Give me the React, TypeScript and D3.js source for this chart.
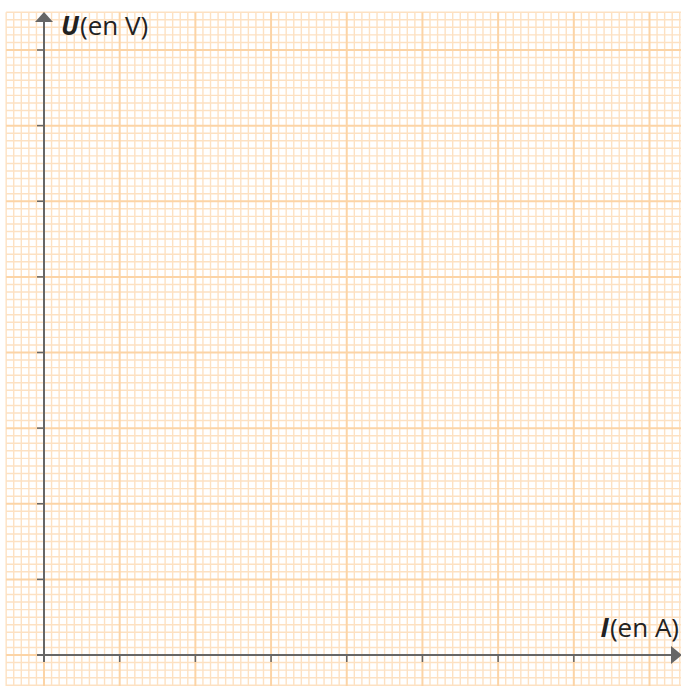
import React from "react";
import * as d3 from "d3";

const xTicks = [1, 2, 3, 4, 5, 6, 7];
const yTicks = [1, 2, 3, 4, 5, 6, 7, 8];
const xLabel = { bold: "I", rest: "(en A)" };
const yLabel = { bold: "U", rest: "(en V)" };

const W = 681;
const H = 686;

export default function App() {
  const x = d3.scaleLinear().domain([0, 8]).range([44, 649.5]);
  const y = d3.scaleLinear().domain([0, 8]).range([655, 50]);
  const step = 0.1;
  const xs = d3.range(-50, 86).map((i) => i * step);
  const ys = d3.range(-41, 86).map((i) => i * step);
  const gx0 = x(-0.5), gx1 = W;
  const gy0 = y(8.5), gy1 = H;
  const minorC = "#fde1c2";
  const majorC = "#fcd4a6";
  const axisC = "#666666";
  const font = "'Open Sans', sans-serif";
  const isMajor = (i: number) => Math.abs(i % 10) === 0;
  return (
    <svg width={W} height={H} style={{ position: "absolute", left: 0, top: 0, background: "#fff" }}>
      <g>
        {[false, true].map((maj) => (
          <g key={String(maj)}>
            {xs.map((v, idx) => {
              const i = idx - 50;
              if (isMajor(i) !== maj) return null;
              const px = x(v);
              if (px > W) return null;
              return (
                <line key={"v" + i} x1={px} x2={px} y1={gy0} y2={gy1}
                  stroke={maj ? majorC : minorC} strokeWidth={maj ? 2 : 1.4} />
              );
            })}
            {ys.map((v, idx) => {
              const i = idx - 41;
              if (isMajor(i) !== maj) return null;
              const py = y(v);
              if (py < gy0 - 0.5) return null;
              return (
                <line key={"h" + i} x1={gx0} x2={gx1} y1={py} y2={py}
                  stroke={maj ? majorC : minorC} strokeWidth={maj ? 2 : 1.4} />
              );
            })}
          </g>
        ))}
      </g>
      <g stroke={axisC} strokeWidth={2}>
        <line x1={x(0)} x2={x(0)} y1={22} y2={y(0) + 7} />
        <line x1={x(0) - 7} x2={672} y1={y(0)} y2={y(0)} />
        {xTicks.map((t) => (
          <line key={"xt" + t} x1={x(t)} x2={x(t)} y1={y(0)} y2={y(0) + 7} strokeWidth={1.5} />
        ))}
        {yTicks.map((t) => (
          <line key={"yt" + t} x1={x(0) - 7} x2={x(0)} y1={y(t)} y2={y(t)} strokeWidth={1.5} />
        ))}
      </g>
      <path d={`M${x(0)},12 L${x(0) - 9},22 L${x(0) + 9},22 Z`} fill={axisC} />
      <path d={`M${W + 1},${y(0)} L${671},${y(0) - 9} L${671},${y(0) + 9} Z`} fill={axisC} />
      <text x={61} y={35} fontFamily={font} fontSize={26} fill="#222">
        <tspan fontWeight="bold" fontStyle="italic">{yLabel.bold}</tspan>
        <tspan dx={1}>{yLabel.rest}</tspan>
      </text>
      <text x={679} y={637} textAnchor="end" fontFamily={font} fontSize={26} fill="#222">
        <tspan fontWeight="bold" fontStyle="italic">{xLabel.bold}</tspan>
        <tspan dx={1}>{xLabel.rest}</tspan>
      </text>
    </svg>
  );
}
